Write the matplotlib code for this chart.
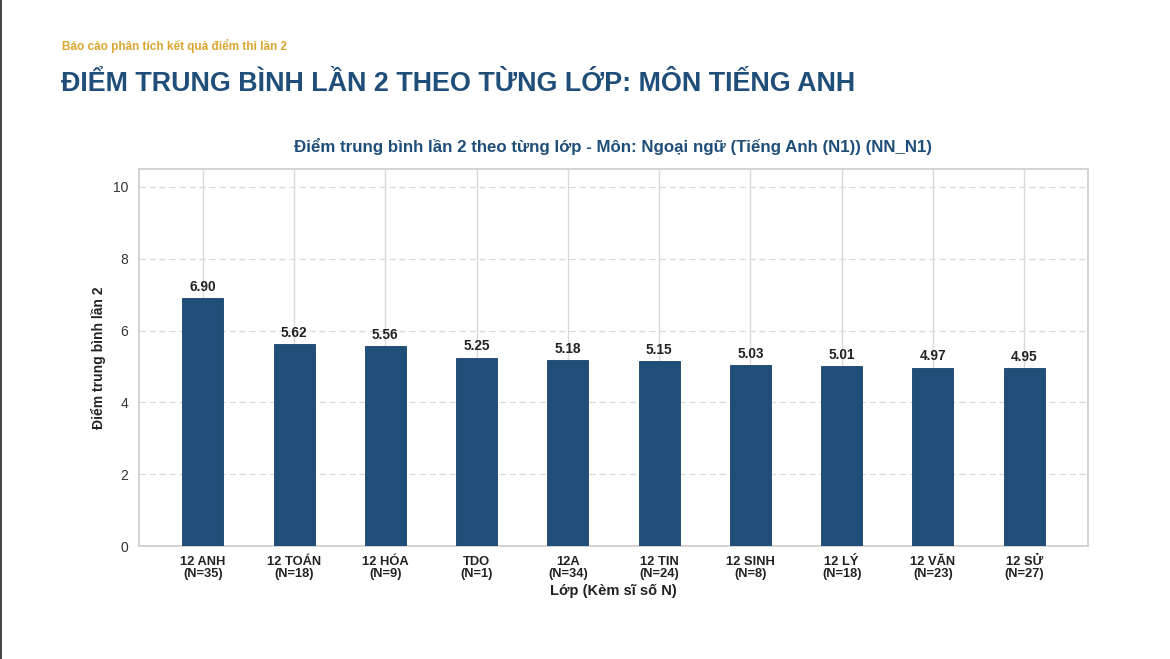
import matplotlib
matplotlib.use("Agg")
import matplotlib.pyplot as plt
from matplotlib.lines import Line2D

plt.rcParams["font.family"] = ["Liberation Sans", "DejaVu Sans"]

classes = ["12 ANH", "12 TOÁN", "12 HÓA", "TDO", "12A", "12 TIN", "12 SINH", "12 LÝ", "12 VĂN", "12 SỬ"]
counts = [35, 18, 9, 1, 34, 24, 8, 18, 23, 27]
means = [6.90, 5.62, 5.56, 5.25, 5.18, 5.15, 5.03, 5.01, 4.97, 4.95]

NAVY = "#1f4e79"
GOLD = "#d9a62e"
GRID = "#d9d9d9"

fig = plt.figure(figsize=(11.7, 6.59), dpi=100)
fig.patch.set_facecolor("white")
fig.add_artist(Line2D([0.0008, 0.0008], [0, 1], transform=fig.transFigure, color="#222222", lw=1.2))

fig.text(0.053, 1 - 46 / 659, "Báo cáo phân tích kết quả điểm thi lần 2",
         color=GOLD, fontsize=8.5, fontweight="bold", va="center", ha="left")
fig.text(0.052, 1 - 84 / 659, "ĐIỂM TRUNG BÌNH LẦN 2 THEO TỪNG LỚP: MÔN TIẾNG ANH",
         color=NAVY, fontsize=19.4, fontweight="bold", va="center", ha="left")

ax = fig.add_axes([139 / 1170, 1 - 546 / 659, (1088 - 139) / 1170, (546 - 169) / 659])
x = list(range(len(classes)))
bars = ax.bar(x, means, width=0.45, color=NAVY, edgecolor="#1a416a", linewidth=0.6, zorder=3)

for xi, v in zip(x, means):
    ax.text(xi, v + 0.12, f"{v:.2f}", ha="center", va="bottom",
            fontsize=9.8, fontweight="bold", color="#222222", zorder=4)

ax.set_xlim(-0.7, len(classes) - 0.3)
ax.set_ylim(0, 10.5)
ax.set_yticks([0, 2, 4, 6, 8, 10])
ax.set_xticks(x)
ax.set_xticklabels([f"{c}\n(N={n})" for c, n in zip(classes, counts)],
                   fontsize=9.3, fontweight="bold", color="#222222", linespacing=1.05)
ax.tick_params(axis="y", labelsize=10, colors="#333333", length=0, pad=8)
ax.tick_params(axis="x", length=0, pad=7)

ax.grid(axis="x", color=GRID, lw=1.0, zorder=0)
ax.grid(axis="y", color=GRID, lw=0.9, ls=(0, (5, 3)), zorder=0)
ax.set_axisbelow(True)
for s in ax.spines.values():
    s.set_color("#cccccc")
    s.set_linewidth(1.2)

ax.set_title("Điểm trung bình lần 2 theo từng lớp - Môn: Ngoại ngữ (Tiếng Anh (N1)) (NN_N1)",
             fontsize=12.2, fontweight="bold", color=NAVY, pad=12)
ax.set_xlabel("Lớp (Kèm sĩ số N)", fontsize=10.5, fontweight="bold", color="#222222", labelpad=3)
ax.set_ylabel("Điểm trung bình lần 2", fontsize=10, fontweight="bold", color="#222222", labelpad=5)

fig.savefig("out.png", dpi=100, facecolor="white")
